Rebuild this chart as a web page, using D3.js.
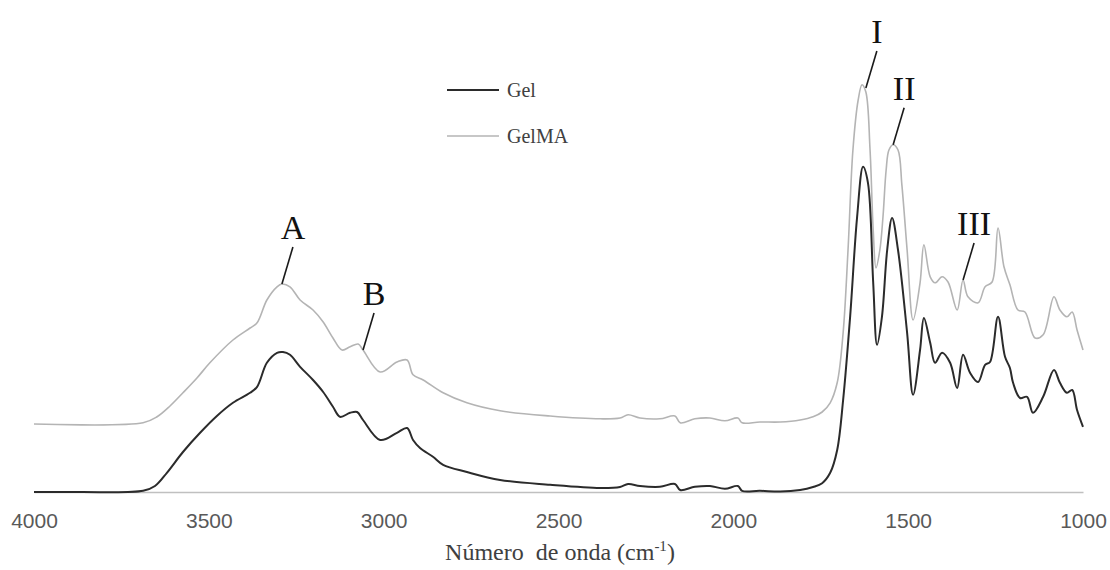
<!DOCTYPE html>
<html>
<head>
<meta charset="utf-8">
<script src="https://cdn.jsdelivr.net/npm/d3@7"></script>
<style>
  body { margin: 0; background: #fff; }
  svg { display: block; }
</style>
</head>
<body>
<div id="chart-area"></div>
<script>
const W = 1110, H = 570;

// Wavenumbers (cm-1) and intensities
const gelWn = [4000, 3868, 3688, 3654, 3620, 3574, 3525, 3477, 3431, 3382, 3362, 3334, 3305, 3288, 3268, 3239, 3202, 3173, 3145, 3125, 3096, 3076, 3059, 3010, 2962, 2933, 2916, 2896, 2859, 2830, 2762, 2667, 2524, 2381, 2324, 2301, 2267, 2210, 2167, 2152, 2110, 2067, 2024, 1987, 1975, 1924, 1866, 1809, 1772, 1746, 1723, 1703, 1686, 1666, 1646, 1629, 1615, 1600, 1589, 1575, 1560, 1546, 1529, 1503, 1486, 1466, 1455, 1437, 1423, 1403, 1380, 1360, 1343, 1323, 1300, 1280, 1266, 1243, 1223, 1209, 1200, 1180, 1160, 1143, 1114, 1083, 1066, 1046, 1031, 1017, 1000];
const gelAbs = [0, 0, 0.003, 0.015, 0.048, 0.10, 0.148, 0.19, 0.223, 0.248, 0.263, 0.323, 0.348, 0.35, 0.343, 0.313, 0.28, 0.25, 0.213, 0.188, 0.198, 0.20, 0.18, 0.13, 0.148, 0.16, 0.13, 0.11, 0.088, 0.068, 0.05, 0.03, 0.018, 0.01, 0.0125, 0.02, 0.015, 0.013, 0.02, 0.005, 0.013, 0.015, 0.008, 0.015, 0.003, 0.003, 0.001, 0.005, 0.0125, 0.022, 0.048, 0.105, 0.23, 0.438, 0.688, 0.813, 0.773, 0.523, 0.368, 0.438, 0.605, 0.685, 0.605, 0.398, 0.243, 0.355, 0.435, 0.373, 0.323, 0.348, 0.323, 0.26, 0.343, 0.298, 0.275, 0.318, 0.325, 0.438, 0.338, 0.31, 0.273, 0.235, 0.238, 0.198, 0.238, 0.305, 0.273, 0.248, 0.255, 0.205, 0.163];

const gelmaWn = [4000, 3688, 3648, 3611, 3574, 3534, 3497, 3431, 3382, 3362, 3334, 3305, 3291, 3268, 3239, 3202, 3173, 3145, 3119, 3096, 3073, 3059, 3010, 2962, 2933, 2916, 2887, 2830, 2762, 2667, 2524, 2381, 2324, 2301, 2267, 2210, 2167, 2152, 2110, 2067, 2024, 1987, 1975, 1924, 1866, 1809, 1772, 1746, 1723, 1703, 1686, 1672, 1658, 1643, 1632, 1621, 1609, 1600, 1592, 1581, 1572, 1563, 1555, 1543, 1529, 1518, 1503, 1486, 1466, 1455, 1437, 1423, 1403, 1386, 1360, 1343, 1329, 1300, 1280, 1260, 1243, 1226, 1209, 1186, 1166, 1137, 1114, 1083, 1066, 1046, 1031, 1017, 1000];
const gelmaAbs = [0.17, 0.173, 0.188, 0.215, 0.248, 0.285, 0.323, 0.38, 0.41, 0.423, 0.48, 0.513, 0.52, 0.513, 0.48, 0.455, 0.425, 0.385, 0.355, 0.363, 0.37, 0.355, 0.30, 0.325, 0.33, 0.293, 0.28, 0.248, 0.223, 0.203, 0.19, 0.183, 0.185, 0.193, 0.185, 0.183, 0.19, 0.173, 0.183, 0.185, 0.178, 0.185, 0.173, 0.175, 0.175, 0.18, 0.188, 0.20, 0.223, 0.273, 0.398, 0.605, 0.855, 0.98, 1.018, 1.0, 0.855, 0.655, 0.56, 0.605, 0.688, 0.805, 0.855, 0.868, 0.855, 0.768, 0.605, 0.43, 0.523, 0.618, 0.538, 0.523, 0.538, 0.525, 0.455, 0.53, 0.488, 0.473, 0.513, 0.525, 0.66, 0.563, 0.518, 0.455, 0.45, 0.385, 0.393, 0.488, 0.455, 0.438, 0.45, 0.405, 0.355];

const tickValues = [4000, 3500, 3000, 2500, 2000, 1500, 1000];

// Peak labels: the point on the GelMA trace each one refers to
const peakLabels = ["A", "B", "I", "II", "III"];
const peakWn = [3291, 3059, 1621, 1543, 1343];
const peakAbs = [0.52, 0.355, 1.01, 0.868, 0.53];

const seriesNames = ["Gel", "GelMA"];
const seriesColors = ["#2b2b2b", "#b4b4b4"];

const svg = d3.select("#chart-area")
  .append("svg")
    .attr("width", W)
    .attr("height", H);

svg.append("rect").attr("width", W).attr("height", H).attr("fill", "#fff");

const xScale = d3.scaleLinear()
  .domain([4000, 1000])
  .range([34, 1083]);

const yScale = d3.scaleLinear()
  .domain([0, 1])
  .range([492, 92]);

// Axis
const xAxis = d3.axisBottom(xScale)
  .tickValues(tickValues)
  .tickSize(0)
  .tickSizeOuter(0)
  .tickPadding(21)
  .tickFormat(d3.format("d"));

const xAxisGroup = svg.append("g")
  .attr("transform", `translate(0,${yScale(0)})`)
  .call(xAxis);

xAxisGroup.select(".domain")
  .attr("stroke", "#c0c0c0")
  .attr("stroke-width", 1.3);

xAxisGroup.selectAll("text")
  .attr("fill", "#595959")
  .style("font-family", "'Liberation Sans', Arial, sans-serif")
  .style("font-size", "21px");

// Axis title
const title = svg.append("text")
  .attr("x", 560)
  .attr("y", 560)
  .attr("text-anchor", "middle")
  .attr("fill", "#404040")
  .style("white-space", "pre")
  .style("font-family", "'Liberation Serif', 'Times New Roman', serif")
  .style("font-size", "24px");
title.append("tspan").text("Número  de onda (cm");
title.append("tspan").attr("dy", -9).style("font-size", "15px").text("-1");
title.append("tspan").attr("dy", 9).text(")");

// Spectra
const line = d3.line()
  .x(d => xScale(d[0]))
  .y(d => yScale(d[1]))
  .curve(d3.curveCatmullRom.alpha(0.5));

const gelData = gelWn.map((w, i) => [w, gelAbs[i]]);
const gelmaData = gelmaWn.map((w, i) => [w, gelmaAbs[i]]);

svg.append("path")
  .datum(gelmaData)
  .attr("fill", "none")
  .attr("stroke", seriesColors[1])
  .attr("stroke-width", 1.6)
  .attr("d", line);

svg.append("path")
  .datum(gelData)
  .attr("fill", "none")
  .attr("stroke", seriesColors[0])
  .attr("stroke-width", 2)
  .attr("d", line);

// Legend
const legend = svg.selectAll(".legend")
  .data(seriesNames)
  .enter().append("g")
  .attr("class", "legend")
  .attr("transform", (d, i) => `translate(447,${90 + i * 46})`);

legend.append("line")
  .attr("x1", 0)
  .attr("x2", 52)
  .attr("stroke", (d, i) => seriesColors[i])
  .attr("stroke-width", (d, i) => i === 0 ? 2 : 1.6);

legend.append("text")
  .attr("x", 60)
  .attr("dy", "0.35em")
  .attr("fill", "#404040")
  .style("font-family", "'Liberation Serif', 'Times New Roman', serif")
  .style("font-size", "20px")
  .text(d => d);

// Peak annotations
const notes = svg.selectAll(".note")
  .data(peakLabels)
  .enter().append("g")
  .attr("class", "note")
  .attr("transform", (d, i) => `translate(${xScale(peakWn[i])},${yScale(peakAbs[i])})`);

notes.append("line")
  .attr("x1", 0).attr("y1", 0)
  .attr("x2", 11).attr("y2", -37)
  .attr("stroke", "#1a1a1a")
  .attr("stroke-width", 1.6);

notes.append("text")
  .attr("x", 11)
  .attr("y", -45)
  .attr("text-anchor", "middle")
  .attr("fill", "#111")
  .style("font-family", "'Liberation Serif', 'Times New Roman', serif")
  .style("font-size", "34px")
  .text(d => d);
</script>
</body>
</html>
